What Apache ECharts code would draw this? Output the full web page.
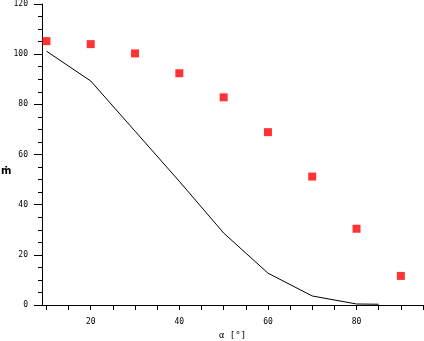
<!DOCTYPE html>
<html><head><meta charset="utf-8">
<script src="https://cdn.jsdelivr.net/npm/echarts@6/dist/echarts.min.js"></script>
<style>html,body{margin:0;padding:0;background:#fff}#c{width:424px;height:341px}</style>
</head><body><div id="c"></div>
<script>
const angles = [10, 20, 30, 40, 50, 60, 70, 80, 90];
const measured = [105.2, 104.0, 100.3, 92.4, 82.8, 68.9, 51.2, 30.4, 11.6];
const lineAngles = [10, 20, 30, 40, 50, 60, 70, 80, 85];
const lineValues = [101.2, 89.3, 69.3, 49.3, 28.7, 12.7, 3.6, 0.4, 0.3];
const xTickValues = [10, 15, 20, 25, 30, 35, 40, 45, 50, 55, 60, 65, 70, 75, 80, 85, 90, 95];
const xLabelValues = [20, 40, 60, 80];
const xName = 'α [°]';
const yName = 'ṁ';

const chart = echarts.init(document.getElementById('c'), null, {renderer: 'canvas'});
const lbl = {fontSize: 8, color: '#000', fontFamily: 'DejaVu Sans Mono'};
chart.setOption({
  animation: false,
  backgroundColor: '#fff',
  grid: {left: 42, right: 1, top: 4, bottom: 36, containLabel: false, outerBoundsMode: 'none'},
  graphic: [{
    type: 'text', left: 1, top: 166,
    style: {text: yName, fontSize: 10, fontWeight: 'bold', fill: '#000', fontFamily: 'DejaVu Sans'}
  }],
  xAxis: {
    type: 'value', min: 9, max: 95,
    name: xName, nameLocation: 'middle', nameGap: 23,
    nameTextStyle: {fontSize: 9, color: '#000', fontFamily: 'DejaVu Sans Mono'},
    axisLine: {show: true, lineStyle: {color: '#000', width: 1}},
    axisTick: {show: true, length: 5, customValues: xTickValues, lineStyle: {color: '#000'}},
    axisLabel: Object.assign({customValues: xLabelValues, margin: 13}, lbl),
    splitLine: {show: false}
  },
  yAxis: {
    type: 'value', min: 0, max: 120, interval: 20,
    axisLine: {show: true, lineStyle: {color: '#000', width: 1}},
    axisTick: {show: true, length: 8, lineStyle: {color: '#000'}},
    minorTick: {show: true, splitNumber: 4, length: 4, lineStyle: {color: '#000'}},
    axisLabel: Object.assign({margin: 14}, lbl),
    splitLine: {show: false}
  },
  series: [
    {
      type: 'line', data: lineAngles.map((a, i) => [a, lineValues[i]]),
      showSymbol: false, lineStyle: {color: '#000', width: 1}, z: 2
    },
    {
      type: 'scatter', data: angles.map((a, i) => [a, measured[i]]),
      symbol: 'rect', symbolSize: 8, itemStyle: {color: '#ff0000'}, z: 3
    }
  ]
});
</script></body></html>
